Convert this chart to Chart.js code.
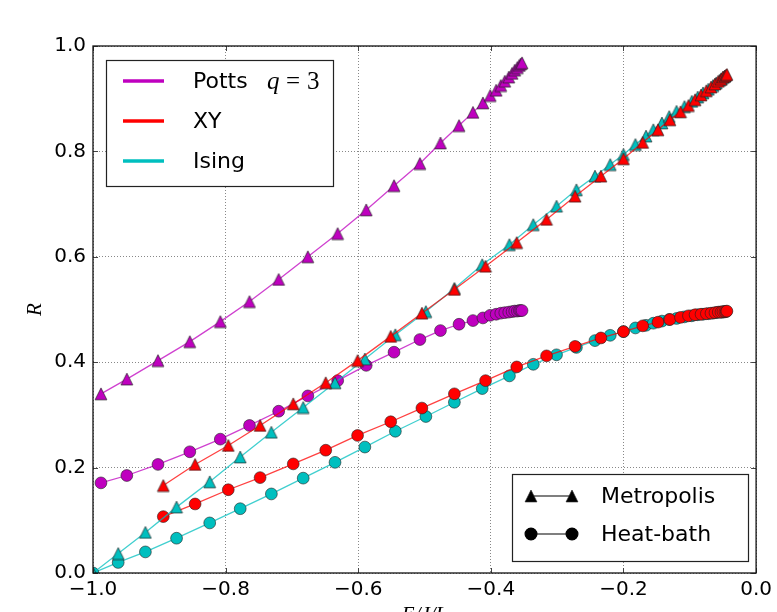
<!DOCTYPE html>
<html>
<head>
<meta charset="utf-8">
<script src="https://cdn.jsdelivr.net/npm/chart.js@4.4.0/dist/chart.umd.min.js"></script>
<style>
  html, body { margin: 0; padding: 0; background: #fff; }
  canvas { display: block; }
</style>
</head>
<body>
<canvas id="myChart" width="777" height="612"></canvas>
<script>
// energy per link (E/J/L) and ratio R for each model / update scheme
const pottsE = [-0.988, -0.949, -0.902, -0.854, -0.808, -0.764, -0.720, -0.676, -0.631, -0.588, -0.546, -0.507, -0.476, -0.448, -0.427, -0.412, -0.401, -0.392, -0.385, -0.379, -0.373, -0.368, -0.364, -0.360, -0.357, -0.355, -0.353];
const pottsMetroR = [0.340, 0.368, 0.403, 0.439, 0.477, 0.515, 0.557, 0.600, 0.644, 0.689, 0.735, 0.777, 0.816, 0.849, 0.874, 0.892, 0.906, 0.916, 0.925, 0.933, 0.941, 0.948, 0.954, 0.959, 0.963, 0.966, 0.968];
const pottsHeatR = [0.171, 0.185, 0.206, 0.230, 0.254, 0.280, 0.307, 0.336, 0.365, 0.394, 0.419, 0.443, 0.460, 0.472, 0.479, 0.484, 0.489, 0.491, 0.493, 0.494, 0.495, 0.496, 0.497, 0.497, 0.498, 0.498, 0.498];

const xyE = [-0.894, -0.846, -0.796, -0.748, -0.698, -0.649, -0.601, -0.551, -0.504, -0.455, -0.408, -0.361, -0.316, -0.273, -0.234, -0.200, -0.171, -0.148, -0.130, -0.114, -0.102, -0.092, -0.083, -0.075, -0.068, -0.062, -0.057, -0.053, -0.050, -0.047, -0.045, -0.044];
const xyMetroR = [0.166, 0.206, 0.242, 0.280, 0.321, 0.361, 0.403, 0.449, 0.493, 0.538, 0.582, 0.627, 0.671, 0.715, 0.753, 0.786, 0.817, 0.841, 0.860, 0.875, 0.887, 0.898, 0.907, 0.915, 0.922, 0.928, 0.933, 0.937, 0.941, 0.943, 0.945, 0.946];
const xyHeatR = [0.107, 0.131, 0.158, 0.181, 0.207, 0.233, 0.261, 0.287, 0.313, 0.340, 0.365, 0.391, 0.412, 0.430, 0.446, 0.458, 0.469, 0.476, 0.481, 0.485, 0.488, 0.490, 0.491, 0.492, 0.493, 0.494, 0.495, 0.495, 0.496, 0.496, 0.496, 0.497];

const isingE = [-1.000, -0.962, -0.921, -0.874, -0.824, -0.778, -0.731, -0.683, -0.635, -0.590, -0.544, -0.498, -0.455, -0.413, -0.372, -0.336, -0.301, -0.271, -0.243, -0.220, -0.200, -0.182, -0.166, -0.155, -0.142, -0.131, -0.120, -0.108, -0.097, -0.088, -0.080, -0.072, -0.065, -0.060, -0.055, -0.052, -0.049, -0.047];
const isingMetroR = [0.000, 0.037, 0.077, 0.125, 0.173, 0.220, 0.267, 0.314, 0.361, 0.406, 0.452, 0.496, 0.540, 0.585, 0.623, 0.661, 0.696, 0.727, 0.753, 0.775, 0.794, 0.813, 0.829, 0.841, 0.854, 0.866, 0.876, 0.885, 0.895, 0.903, 0.911, 0.918, 0.925, 0.930, 0.935, 0.938, 0.941, 0.943];
const isingHeatR = [0.000, 0.020, 0.040, 0.066, 0.095, 0.122, 0.150, 0.180, 0.210, 0.239, 0.269, 0.297, 0.324, 0.350, 0.374, 0.396, 0.414, 0.428, 0.441, 0.451, 0.458, 0.465, 0.470, 0.474, 0.478, 0.481, 0.483, 0.486, 0.488, 0.490, 0.491, 0.492, 0.493, 0.494, 0.495, 0.495, 0.495, 0.496];

const xTickValues = [-1.0, -0.8, -0.6, -0.4, -0.2, 0.0];
const yTickValues = [0.0, 0.2, 0.4, 0.6, 0.8, 1.0];

const MAGENTA = '#bf00bf';
const RED = '#ff0000';
const CYAN = '#00bfbf';

const fmt = v => v.toFixed(1).replace('-', '\u2212');

// "^" marker: as tall as it is wide, centred on its bounding box
function triangleMarker(color) {
    const c = document.createElement('canvas');
    c.width = 14; c.height = 14;
    const g = c.getContext('2d');
    const h = 5.9;
    g.beginPath();
    g.moveTo(7, 7 - h);
    g.lineTo(7 - h, 7 + h);
    g.lineTo(7 + h, 7 + h);
    g.closePath();
    g.fillStyle = color;
    g.fill();
    g.lineWidth = 0.7;
    g.strokeStyle = '#222';
    g.stroke();
    return c;
}

function series(xs, ys, color, lineColor, marker) {
    const tri = marker === 'triangle';
    return {
        data: xs.map((e, i) => ({ x: e, y: ys[i] })),
        borderColor: lineColor,
        borderWidth: 1.3,
        backgroundColor: color,
        pointBackgroundColor: color,
        pointBorderColor: '#222',
        pointBorderWidth: 0.6,
        pointStyle: tri ? triangleMarker(color) : 'circle',
        pointRadius: tri ? 7 : 5.9,
        tension: 0,
        clip: 0
    };
}

// first dataset is drawn on top
const datasets = [
    series(xyE, xyMetroR, RED, 'rgba(255,0,0,0.75)', 'triangle'),
    series(isingE, isingMetroR, CYAN, 'rgba(0,191,191,0.75)', 'triangle'),
    series(pottsE, pottsMetroR, MAGENTA, 'rgba(191,0,191,0.75)', 'triangle'),
    series(xyE, xyHeatR, RED, 'rgba(255,0,0,0.75)', 'circle'),
    series(isingE, isingHeatR, CYAN, 'rgba(0,191,191,0.75)', 'circle'),
    series(pottsE, pottsHeatR, MAGENTA, 'rgba(191,0,191,0.75)', 'circle')
];

const blackTriangle = triangleMarker('#000');

// frame, inward ticks, both legends and the axis titles
const decorations = {
    id: 'decorations',
    afterDatasetsDraw(chart) {
        const { ctx, chartArea: a, scales: { x, y } } = chart;
        ctx.save();

        ctx.strokeStyle = '#444';
        ctx.lineWidth = 1;
        ctx.beginPath();
        xTickValues.forEach(v => {
            const px = Math.round(x.getPixelForValue(v)) + 0.5;
            ctx.moveTo(px, a.bottom); ctx.lineTo(px, a.bottom - 5);
            ctx.moveTo(px, a.top); ctx.lineTo(px, a.top + 5);
        });
        yTickValues.forEach(v => {
            const py = Math.round(y.getPixelForValue(v)) + 0.5;
            ctx.moveTo(a.left, py); ctx.lineTo(a.left + 5, py);
            ctx.moveTo(a.right, py); ctx.lineTo(a.right - 5, py);
        });
        ctx.stroke();

        ctx.strokeStyle = '#111';
        ctx.lineWidth = 1.3;
        ctx.strokeRect(a.left, a.top, a.right - a.left, a.bottom - a.top);

        // model legend
        ctx.fillStyle = '#fff';
        ctx.fillRect(106, 60, 227, 126);
        ctx.strokeStyle = '#222';
        ctx.lineWidth = 1.2;
        ctx.strokeRect(106.5, 60.5, 227, 126);
        const models = [['Potts', MAGENTA, 81], ['XY', RED, 121], ['Ising', CYAN, 161]];
        ctx.lineWidth = 3.5;
        ctx.textBaseline = 'middle';
        ctx.textAlign = 'left';
        models.forEach(([name, col, ly]) => {
            ctx.strokeStyle = col;
            ctx.beginPath();
            ctx.moveTo(123, ly); ctx.lineTo(164, ly);
            ctx.stroke();
            ctx.fillStyle = '#000';
            ctx.font = '22px "DejaVu Sans"';
            ctx.fillText(name, 193, ly + 1);
        });
        ctx.font = 'italic 25px "Liberation Serif"';
        ctx.fillText('q', 267, 82);
        ctx.font = '25px "Liberation Serif"';
        ctx.fillText('=', 286, 82);
        ctx.fillText('3', 307, 82);

        // update-scheme legend
        ctx.fillStyle = '#fff';
        ctx.fillRect(512, 474, 236, 87);
        ctx.strokeStyle = '#222';
        ctx.lineWidth = 1.2;
        ctx.strokeRect(512.5, 474.5, 236, 87);
        const schemes = [['Metropolis', 'triangle', 496], ['Heat-bath', 'circle', 534]];
        schemes.forEach(([name, style, ly]) => {
            ctx.strokeStyle = '#000';
            ctx.lineWidth = 1.2;
            ctx.beginPath();
            ctx.moveTo(531, ly); ctx.lineTo(572, ly);
            ctx.stroke();
            ctx.fillStyle = '#000';
            [531, 572].forEach(mx => {
                if (style === 'triangle') {
                    ctx.drawImage(blackTriangle, mx - 7, ly - 7);
                } else {
                    Chart.helpers.drawPoint(ctx, { pointStyle: 'circle', rotation: 0, radius: 5.9, borderWidth: 0.6 }, mx, ly);
                }
            });
            ctx.fillStyle = '#000';
            ctx.font = '22px "DejaVu Sans"';
            ctx.fillText(name, 601, ly + 1);
        });

        // axis titles
        ctx.fillStyle = '#000';
        ctx.font = 'italic 21px "Liberation Serif"';
        ctx.textAlign = 'center';
        ctx.textBaseline = 'alphabetic';
        ctx.fillText('E/J/L', (a.left + a.right) / 2, 621);
        ctx.translate(41, (a.top + a.bottom) / 2);
        ctx.rotate(-Math.PI / 2);
        ctx.fillText('R', 0, 0);

        ctx.restore();
    }
};

new Chart(document.getElementById('myChart'), {
    type: 'line',
    data: { datasets },
    options: {
        responsive: false,
        animation: false,
        layout: { padding: { top: 46, right: 17, left: 0, bottom: 0 } },
        plugins: { legend: { display: false }, tooltip: { enabled: false } },
        scales: {
            x: {
                type: 'linear',
                min: -1,
                max: 0,
                afterBuildTicks: s => { s.ticks = xTickValues.map(v => ({ value: v })); },
                afterFit: s => { s.height = 39; },
                ticks: {
                    color: '#000',
                    font: { family: 'DejaVu Sans', size: 20 },
                    padding: 5,
                    maxRotation: 0,
                    callback: v => fmt(v)
                },
                grid: { color: '#888', lineWidth: 1, drawTicks: false },
                border: { display: false, dash: [1, 2] }
            },
            y: {
                type: 'linear',
                min: 0,
                max: 1,
                afterBuildTicks: s => { s.ticks = yTickValues.map(v => ({ value: v })); },
                afterFit: s => { s.width = 93; },
                ticks: {
                    color: '#000',
                    font: { family: 'DejaVu Sans', size: 20 },
                    padding: 7,
                    callback: v => fmt(v)
                },
                grid: { color: '#888', lineWidth: 1, drawTicks: false },
                border: { display: false, dash: [1, 2] }
            }
        }
    },
    plugins: [decorations]
});
</script>
</body>
</html>
